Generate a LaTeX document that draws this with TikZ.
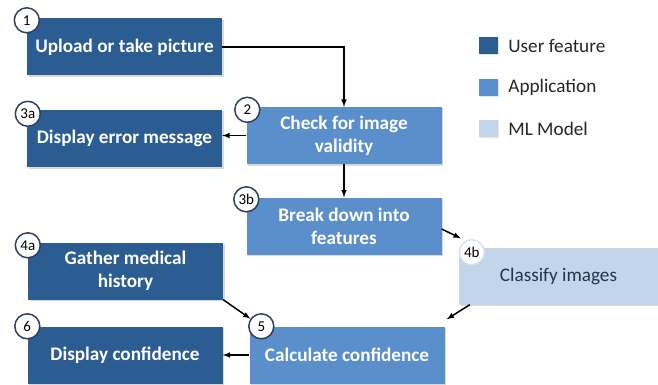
\documentclass[tikz,border=0pt]{standalone}
\usepackage{fontspec}
\setmainfont{Carlito}
\usepackage{tikz}
\usetikzlibrary{calc,shadows}

\definecolor{userblue}{HTML}{2B5C92}
\definecolor{appblue}{HTML}{5B8FCB}
\definecolor{mlblue}{HTML}{C2D5EB}
\definecolor{ringgray}{HTML}{2F4160}
\definecolor{mltext}{HTML}{22344F}

\begin{document}
\begin{tikzpicture}[x=1pt, y=-1pt, >=latex,
  box/.style={minimum width=195pt, minimum height=57pt, align=center, inner sep=2pt,
    text=white, font=\bfseries\fontsize{19.2}{23}\selectfont,
    drop shadow={opacity=0.3, shadow xshift=1.5pt, shadow yshift=-1.5pt}},
  user/.style={box, fill=userblue},
  app/.style={box, fill=appblue},
  ml/.style={box, fill=mlblue, text=mltext, font=\fontsize{19.2}{23}\selectfont},
  num/.style={circle, draw=ringgray, line width=1.5pt, fill=white, minimum size=25pt,
    inner sep=0pt, font=\fontsize{15}{15}\selectfont},
  key/.style={minimum width=19pt, minimum height=17pt, inner sep=0pt,
    drop shadow={opacity=0.2, shadow xshift=1pt, shadow yshift=-1pt}},
  keytext/.style={anchor=west, inner sep=0pt, text=black!85, font=\fontsize{19.2}{23}\selectfont},
  flow/.style={->, line width=1.5pt}]
\useasboundingbox (0,0) rectangle (658,385);

% steps
\node[user] (up)  at (124.5,47)   {Upload or take picture};
\node[user] (err) at (124.5,138.5) {Display error message};
\node[app]  (chk) at (344,135.5)  {Check for image\\validity};
\node[app]  (brk) at (344,226)    {Break down into\\features};
\node[user] (gat) at (125.5,271)  {Gather medical\\history};
\node[ml, minimum width=199pt] (clf) at (558.5,276) {Classify images};
\node[user] (dsp) at (125,355)    {Display confidence};
\node[app]  (cal) at (347,355)    {Calculate confidence};

% step numbers
\node[num] (n1)  at ($(up.north west)+(0,2)$)  {1};
\node[num] (n3a) at ($(err.north west)+(1,4)$) {3a};
\node[num] (n2)  at ($(chk.north west)+(1,3)$) {2};
\node[num] (n3b) at ($(brk.north west)+(0,2)$) {3b};
\node[num] (n4a) at ($(gat.north west)+(0,3)$) {4a};
\node[num, draw=mlblue!70] (n4b) at ($(clf.north west)+(13,5)$) {4b};
\node[num] (n6)  at (dsp.north west) {6};
\node[num] (n5)  at ($(cal.north west)+(12,0)$) {5};

% arrows
\draw[flow] (up.east) -| (chk.north);
\draw[flow] (chk.west) -- (chk.west -| err.east);
\draw[flow] (chk.south) -- (brk.north);
\draw[flow] ($(brk.east)+(0,3)$) -- ($(clf.north west)+(2,-9)$);
\draw[flow] (gat.south east) -- (n5);
\draw[flow] ($(clf.south west)+(11,0)$) -- ($(cal.north east)+(2,-7)$);
\draw[flow] (cal.west) -- (dsp.east);

% legend
\node[key, fill=userblue] (k1) at (488.5,45.5)  {};
\node[key, fill=appblue]  (k2) at (488.5,87.5)  {};
\node[key, fill=mlblue]   (k3) at (488.5,128.5) {};
\node[keytext] (t1) at ($(k1.east)+(10,0)$) {User feature};
\node[keytext] (t2) at ($(k2.east)+(10,0)$) {Application};
\node[keytext] (t3) at ($(k3.east)+(10,0)$) {ML Model};
\end{tikzpicture}
\end{document}
